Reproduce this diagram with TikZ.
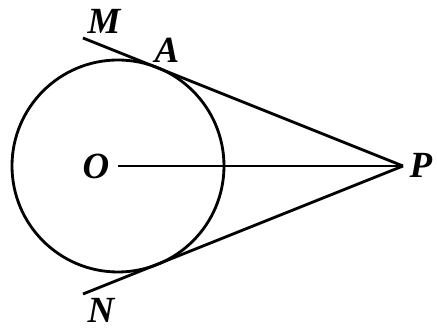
\documentclass[tikz,border=0pt]{standalone}
\usepackage{fontspec}
\setmainfont{Liberation Serif}
\usepackage{tikz}
\usetikzlibrary{calc}

\tikzset{
  geo/.style={line width=1.6pt, black},
  ptlabel/.style={font=\fontsize{21}{25}\selectfont\bfseries\itshape, inner sep=0pt}
}

\begin{document}
\begin{tikzpicture}
  \useasboundingbox (-2.36,-3.24) rectangle (6.38,3.32);

  % Points
  \coordinate (O) at (0,0);
  \coordinate (P) at (5.7,0);
  \coordinate (M) at (-0.70,2.56);
  \coordinate (N) at (-0.70,-2.56);

  % Circle and lines
  \draw[geo] (O) circle (2.12);
  \draw[geo] (O) -- (P);
  \draw[geo] (M) -- (P);
  \draw[geo] (N) -- (P);

  % Labels
  \node[ptlabel] (labM) at (-0.28,2.90)  {M};
  \node[ptlabel] (labA) at (0.98,2.32)   {A};
  \node[ptlabel] (labN) at (-0.34,-2.88) {N};
  \node[ptlabel] (labO) at (-0.44,0)     {O};
  \node[ptlabel] (labP) at (6.06,0.02)   {P};
\end{tikzpicture}
\end{document}
